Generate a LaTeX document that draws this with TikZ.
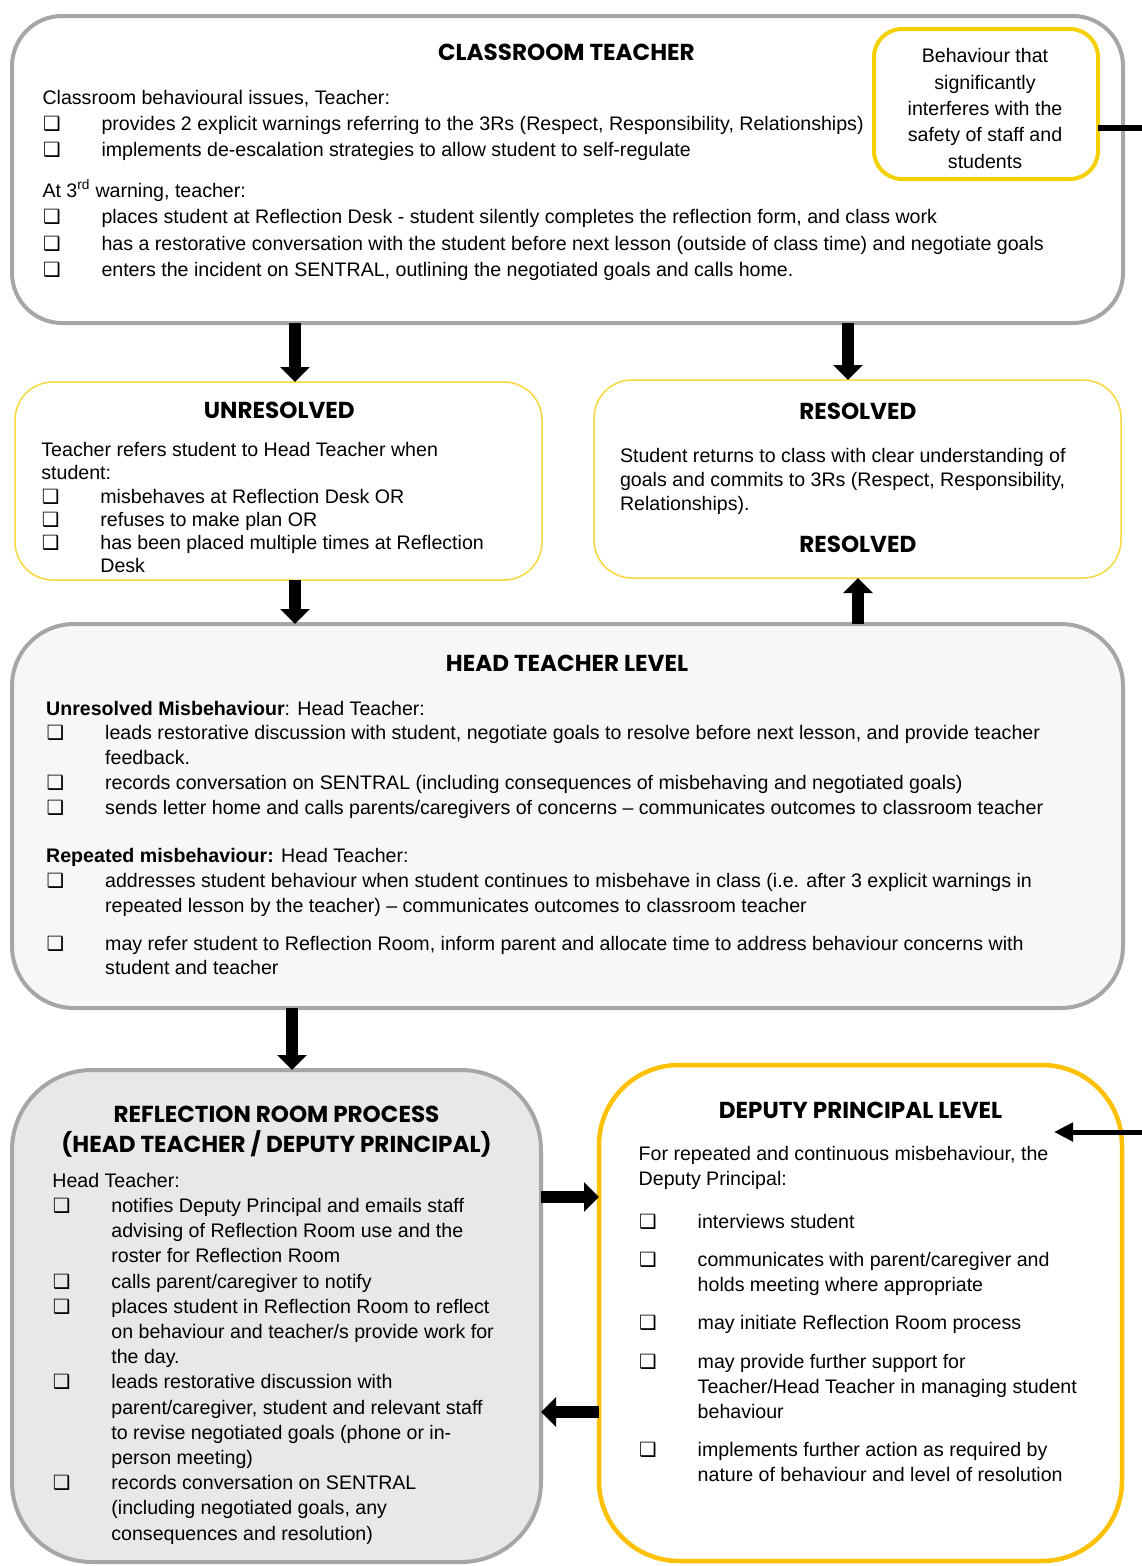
\documentclass[tikz,border=0pt]{standalone}
\usepackage{fontspec}
\setmainfont{Liberation Sans}
\newfontfamily\hdfont{Poppins}
\newfontfamily\dejavu{DejaVu Sans}
\usetikzlibrary{arrows.meta}
\definecolor{grayb}{RGB}{166,166,166}
\definecolor{yelA}{RGB}{245,208,0}
\definecolor{yelB}{RGB}{248,216,60}
\definecolor{yelC}{RGB}{255,192,0}
\definecolor{fillA}{RGB}{247,247,247}
\definecolor{fillB}{RGB}{232,232,232}
\newcommand\blk[2]{\parbox[t]{1100pt}{\fontsize{19.6}{#1}\selectfont\lineskiplimit=-100pt\lineskip=0pt\parindent=0pt #2}}
\newcommand\cb{\makebox[59pt][l]{\hspace{0.5pt}{\dejavu ❑}}}
\newcommand\ind{\hspace*{59pt}}
\begin{document}
\begin{tikzpicture}[x=1pt,y=-1pt,
  every node/.style={inner sep=0pt, outer sep=0pt},
  hd/.style={font=\hdfont\bfseries\fontsize{23.1}{23.1}\selectfont, anchor=base},
  tx/.style={anchor=base west},
  graybox/.style={draw=grayb, line width=4pt, rectangle},
  yelbox/.style={draw=yelB, line width=1.5pt, rectangle, fill=white, rounded corners=38pt, minimum width=527pt, minimum height=198pt},
  bigarrow/.style={line width=12pt, -{Triangle[width=29pt,length=15pt]}},
  thinarrow/.style={line width=5pt, -{Triangle[width=18pt,length=19pt]}}
]
\useasboundingbox (0,0) rectangle (1142,1566);
\fill[white] (0,0) rectangle (1142,1566);

% ---------- boxes ----------
\node[graybox, fill=white, minimum width=1111pt, minimum height=307pt, rounded corners=50pt] (ct) at (567.5,169.5) {};
\node[draw=yelA, line width=4pt, rectangle, fill=white, minimum width=224pt, minimum height=150pt, rounded corners=28pt] (sb) at (986,104) {};
\node[yelbox] (un) at (278.5,481) {};
\node[yelbox] (rs) at (857.5,479) {};
\node[graybox, fill=fillA, minimum width=1111pt, minimum height=384pt, rounded corners=62pt] (ht) at (567.5,816) {};
\node[graybox, fill=fillB, minimum width=529pt, minimum height=492pt, rounded corners=80pt] (rr) at (276.5,1316) {};
\node[draw=yelC, line width=4.5pt, rectangle, fill=white, minimum width=523pt, minimum height=496pt, rounded corners=80pt] (dp) at (860.5,1313) {};

% ---------- headings ----------
\node[hd] (h1) at (566.4,60) {CLASSROOM TEACHER};
\node[hd] (h2) at (279.3,418.3) {UNRESOLVED};
\node[hd] (h3) at (857.8,419.3) {RESOLVED};
\node[hd] (h3b) at (857.8,552.3) {RESOLVED};
\node[hd] (h4) at (567,671.7) {HEAD TEACHER LEVEL};
\node[hd] (h5) at (276.5,1122.7) {REFLECTION ROOM PROCESS};
\node[hd] (h5b) at (276.5,1152.7) {(HEAD TEACHER / DEPUTY PRINCIPAL)};
\node[hd] (h6) at (860.5,1118.3) {DEPUTY PRINCIPAL LEVEL};

% ---------- texts ----------
\node[tx] (t1) at (42.5,104) {\blk{26.4}{%
Classroom behavioural issues, Teacher:\\
\cb provides 2 explicit warnings referring to the 3Rs (Respect, Responsibility, Relationships)\\
\cb implements de-escalation strategies to allow student to self-regulate\\[14pt]
At 3\textsuperscript{rd} warning, teacher:\\
\cb places student at Reflection Desk - student silently completes the reflection form, and class work\\
\cb has a restorative conversation with the student before next lesson (outside of class time) and negotiate goals\\
\cb enters the incident on SENTRAL, outlining the negotiated goals and calls home.}};

\node[anchor=base] (ts) at (985,62.7) {\parbox[t]{220pt}{\centering\fontsize{19.6}{26.4}\selectfont\lineskiplimit=-100pt\lineskip=0pt
Behaviour that\\ significantly\\ interferes with the\\ safety of staff and\\ students}};

\node[tx] (t2) at (41.4,456.7) {\blk{23.2}{%
Teacher refers student to Head Teacher when\\
student:\\
\cb misbehaves at Reflection Desk OR\\
\cb refuses to make plan OR\\
\cb has been placed multiple times at Reflection\\
\ind Desk}};

\node[tx] (t3) at (620,462.7) {\blk{24}{%
Student returns to class with clear understanding of\\
goals and commits to 3Rs (Respect, Responsibility,\\
Relationships).}};

\node[tx] (t4) at (46.2,715) {\blk{24.8}{%
\textbf{Unresolved Misbehaviour}: Head Teacher:\\
\cb leads restorative discussion with student, negotiate goals to resolve before next lesson, and provide teacher\\
\ind feedback.\\
\cb records conversation on SENTRAL (including consequences of misbehaving and negotiated goals)\\
\cb sends letter home and calls parents/caregivers of concerns -- communicates outcomes to classroom teacher\\[23.7pt]
\textbf{Repeated misbehaviour:} Head Teacher:\\
\cb addresses student behaviour when student continues to misbehave in class (i.e. after 3 explicit warnings in\\
\ind repeated lesson by the teacher) -- communicates outcomes to classroom teacher\\[13pt]
\cb may refer student to Reflection Room, inform parent and allocate time to address behaviour concerns with\\
\ind student and teacher}};

\node[tx] (t5) at (52.4,1187.3) {\blk{25.2}{%
Head Teacher:\\
\cb notifies Deputy Principal and emails staff\\
\ind advising of Reflection Room use and the\\
\ind roster for Reflection Room\\
\cb calls parent/caregiver to notify\\
\cb places student in Reflection Room to reflect\\
\ind on behaviour and teacher/s provide work for\\
\ind the day.\\
\cb leads restorative discussion with\\
\ind parent/caregiver, student and relevant staff\\
\ind to revise negotiated goals (phone or in-\\
\ind person meeting)\\
\cb records conversation on SENTRAL\\
\ind (including negotiated goals, any\\
\ind consequences and resolution)}};

\node[tx] (t6) at (638.7,1160.7) {\blk{24.9}{%
For repeated and continuous misbehaviour, the\\
Deputy Principal:\\[17.5pt]
\cb interviews student\\[13.6pt]
\cb communicates with parent/caregiver and\\
\ind holds meeting where appropriate\\[13.6pt]
\cb may initiate Reflection Room process\\[13.6pt]
\cb may provide further support for\\
\ind Teacher/Head Teacher in managing student\\
\ind behaviour\\[13.6pt]
\cb implements further action as required by\\
\ind nature of behaviour and level of resolution}};

% ---------- connectors ----------
\coordinate (xa) at (295,0);
\coordinate (xb) at (848,0);
\coordinate (xc) at (858,0);
\coordinate (xd) at (292,0);
\coordinate (ya) at (0,1197);
\coordinate (yb) at (0,1412);
\coordinate (eT) at (1142,128);
\coordinate (eD) at (1142,1132);
\coordinate (tD) at (1054,1132);

\draw[bigarrow] (ct.south -| xa) -- (un.north -| xa);
\draw[bigarrow] (ct.south -| xb) -- (rs.north -| xb);
\draw[bigarrow] (un.south -| xa) -- (ht.north -| xa);
\draw[bigarrow] (ht.north -| xc) -- (rs.south -| xc);
\draw[bigarrow] (ht.south -| xd) -- (rr.north -| xd);
\draw[bigarrow] (rr.east |- ya) -- (dp.west |- ya);
\draw[bigarrow] (dp.west |- yb) -- (rr.east |- yb);
\draw[line width=6pt] (sb.east |- eT) -- (eT);
\draw[thinarrow] (eD) -- (tD);
\end{tikzpicture}
\end{document}
